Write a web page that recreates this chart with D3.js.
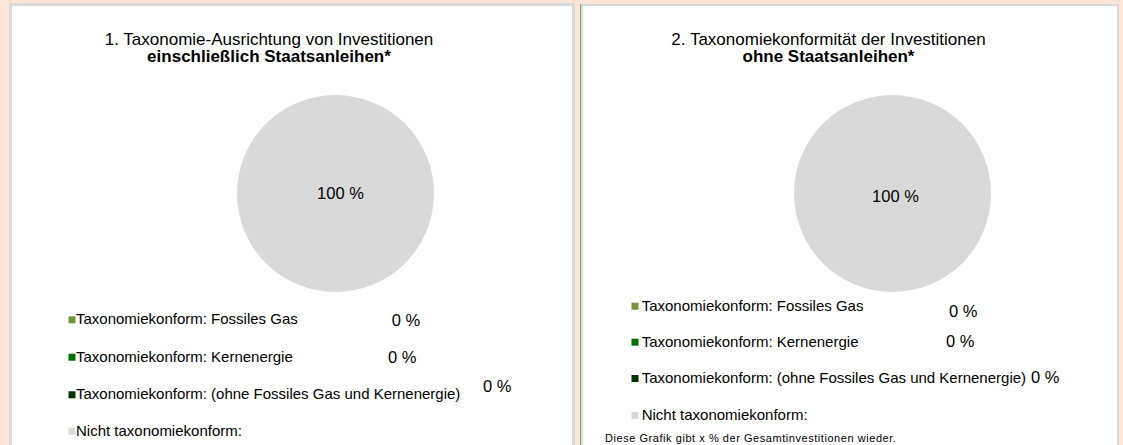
<!DOCTYPE html>
<html>
<head>
<meta charset="utf-8">
<script src="https://cdn.jsdelivr.net/npm/d3@7"></script>
<style>
  html, body { margin: 0; padding: 0; background: #FCE4D6; }
  svg { display: block; }
  text { font-family: "Liberation Sans", Arial, sans-serif; fill: #000; }
</style>
</head>
<body>
<svg id="chart" width="1123" height="445"></svg>
<script>
// ---- data ----
const categories = [
  "Taxonomiekonform: Fossiles Gas",
  "Taxonomiekonform: Kernenergie",
  "Taxonomiekonform: (ohne Fossiles Gas und Kernenergie)",
  "Nicht taxonomiekonform:"
];
const valuesInclSovereign = [0, 0, 0, 100];
const valuesExclSovereign = [0, 0, 0, 100];
const colors = ["#77933C", "#007000", "#003300", "#D9D9D9"];
const titleLine1 = ["1. Taxonomie-Ausrichtung von Investitionen", "2. Taxonomiekonformität der Investitionen"];
const titleLine2 = ["einschließlich Staatsanleihen*", "ohne Staatsanleihen*"];
const footnote = "Diese Grafik gibt x % der Gesamtinvestitionen wieder.";

// ---- layout ----
const svg = d3.select("#chart");
const fmt = v => d3.format("d")(v) + " %";

const panels = [
  {
    values: valuesInclSovereign,
    rect: {x: 10.5, y: 4.5, w: 563, h: 600, sw: 3},
    titleX: 269, t1y: 44.5, t2y: 61.7,
    pie: {cx: 335.5, cy: 193.5, r: 98.5, lx: 340.5, ly: 199},
    legend: {sqX: 68.5, textX: 76, baselines: [324.3, 361.7, 399.3, 435.7]},
    valueLabels: [{x: 391.7, y: 326}, {x: 388, y: 363}, {x: 483, y: 391.7}],
    footnote: false
  },
  {
    values: valuesExclSovereign,
    rect: {x: 582, y: 5, w: 1118 - 582, h: 600, sw: 2},
    titleX: 828.5, t1y: 44.5, t2y: 61.7,
    pie: {cx: 892.5, cy: 193.5, r: 98.5, lx: 895.5, ly: 202},
    legend: {sqX: 631.5, textX: 641.7, baselines: [310.7, 346.7, 383, 420]},
    valueLabels: [{x: 949, y: 316.7}, {x: 946, y: 347}, {x: 1031, y: 383}],
    footnote: true
  }
];

panels.forEach((p, i) => {
  const g = svg.append("g");
  g.append("rect")
    .attr("x", p.rect.x).attr("y", p.rect.y)
    .attr("width", p.rect.w).attr("height", p.rect.h)
    .attr("fill", "#fff").attr("stroke", "#D9D9D9").attr("stroke-width", p.rect.sw);
  if (i === 1) {
    g.append("line").attr("x1", 580.5).attr("x2", 580.5).attr("y1", 4).attr("y2", 445)
      .attr("stroke", "#70AD47").attr("stroke-width", 1);
  }

  g.append("text").attr("x", p.titleX).attr("y", p.t1y)
    .attr("text-anchor", "middle").style("font-size", "17px")
    .text(titleLine1[i]);
  g.append("text").attr("x", p.titleX).attr("y", p.t2y)
    .attr("text-anchor", "middle").style("font-size", "17px").style("font-weight", "bold")
    .text(titleLine2[i]);

  // pie
  const pie = d3.pie().sort(null).value(d => d.v);
  const arc = d3.arc().innerRadius(0).outerRadius(p.pie.r);
  const data = categories.map((c, k) => ({c, v: p.values[k], color: colors[k]}));
  g.append("g").attr("transform", `translate(${p.pie.cx},${p.pie.cy})`)
    .selectAll("path").data(pie(data).filter(d => d.data.v > 0)).join("path")
    .attr("d", arc).attr("fill", d => d.data.color);

  // full-slice value label
  data.filter(d => d.v > 0).forEach(d => {
    g.append("text").attr("x", p.pie.lx).attr("y", p.pie.ly)
      .attr("text-anchor", "middle").style("font-size", "16.5px")
      .text(fmt(d.v));
  });

  // legend
  const sq = 7;
  categories.forEach((c, k) => {
    const by = p.legend.baselines[k];
    g.append("rect").attr("x", p.legend.sqX).attr("y", by - 8)
      .attr("width", sq).attr("height", sq).attr("fill", colors[k]);
    g.append("text").attr("x", p.legend.textX).attr("y", by)
      .style("font-size", "15px").text(c);
  });

  // zero-value labels
  p.valueLabels.forEach((vl, k) => {
    g.append("text").attr("x", vl.x).attr("y", vl.y)
      .style("font-size", "16.5px").text(fmt(p.values[k]));
  });

  if (p.footnote) {
    g.append("text").attr("x", 605).attr("y", 441.5)
      .style("font-size", "11px").style("letter-spacing", "0.55px").text(footnote);
  }
});
</script>
</body>
</html>
